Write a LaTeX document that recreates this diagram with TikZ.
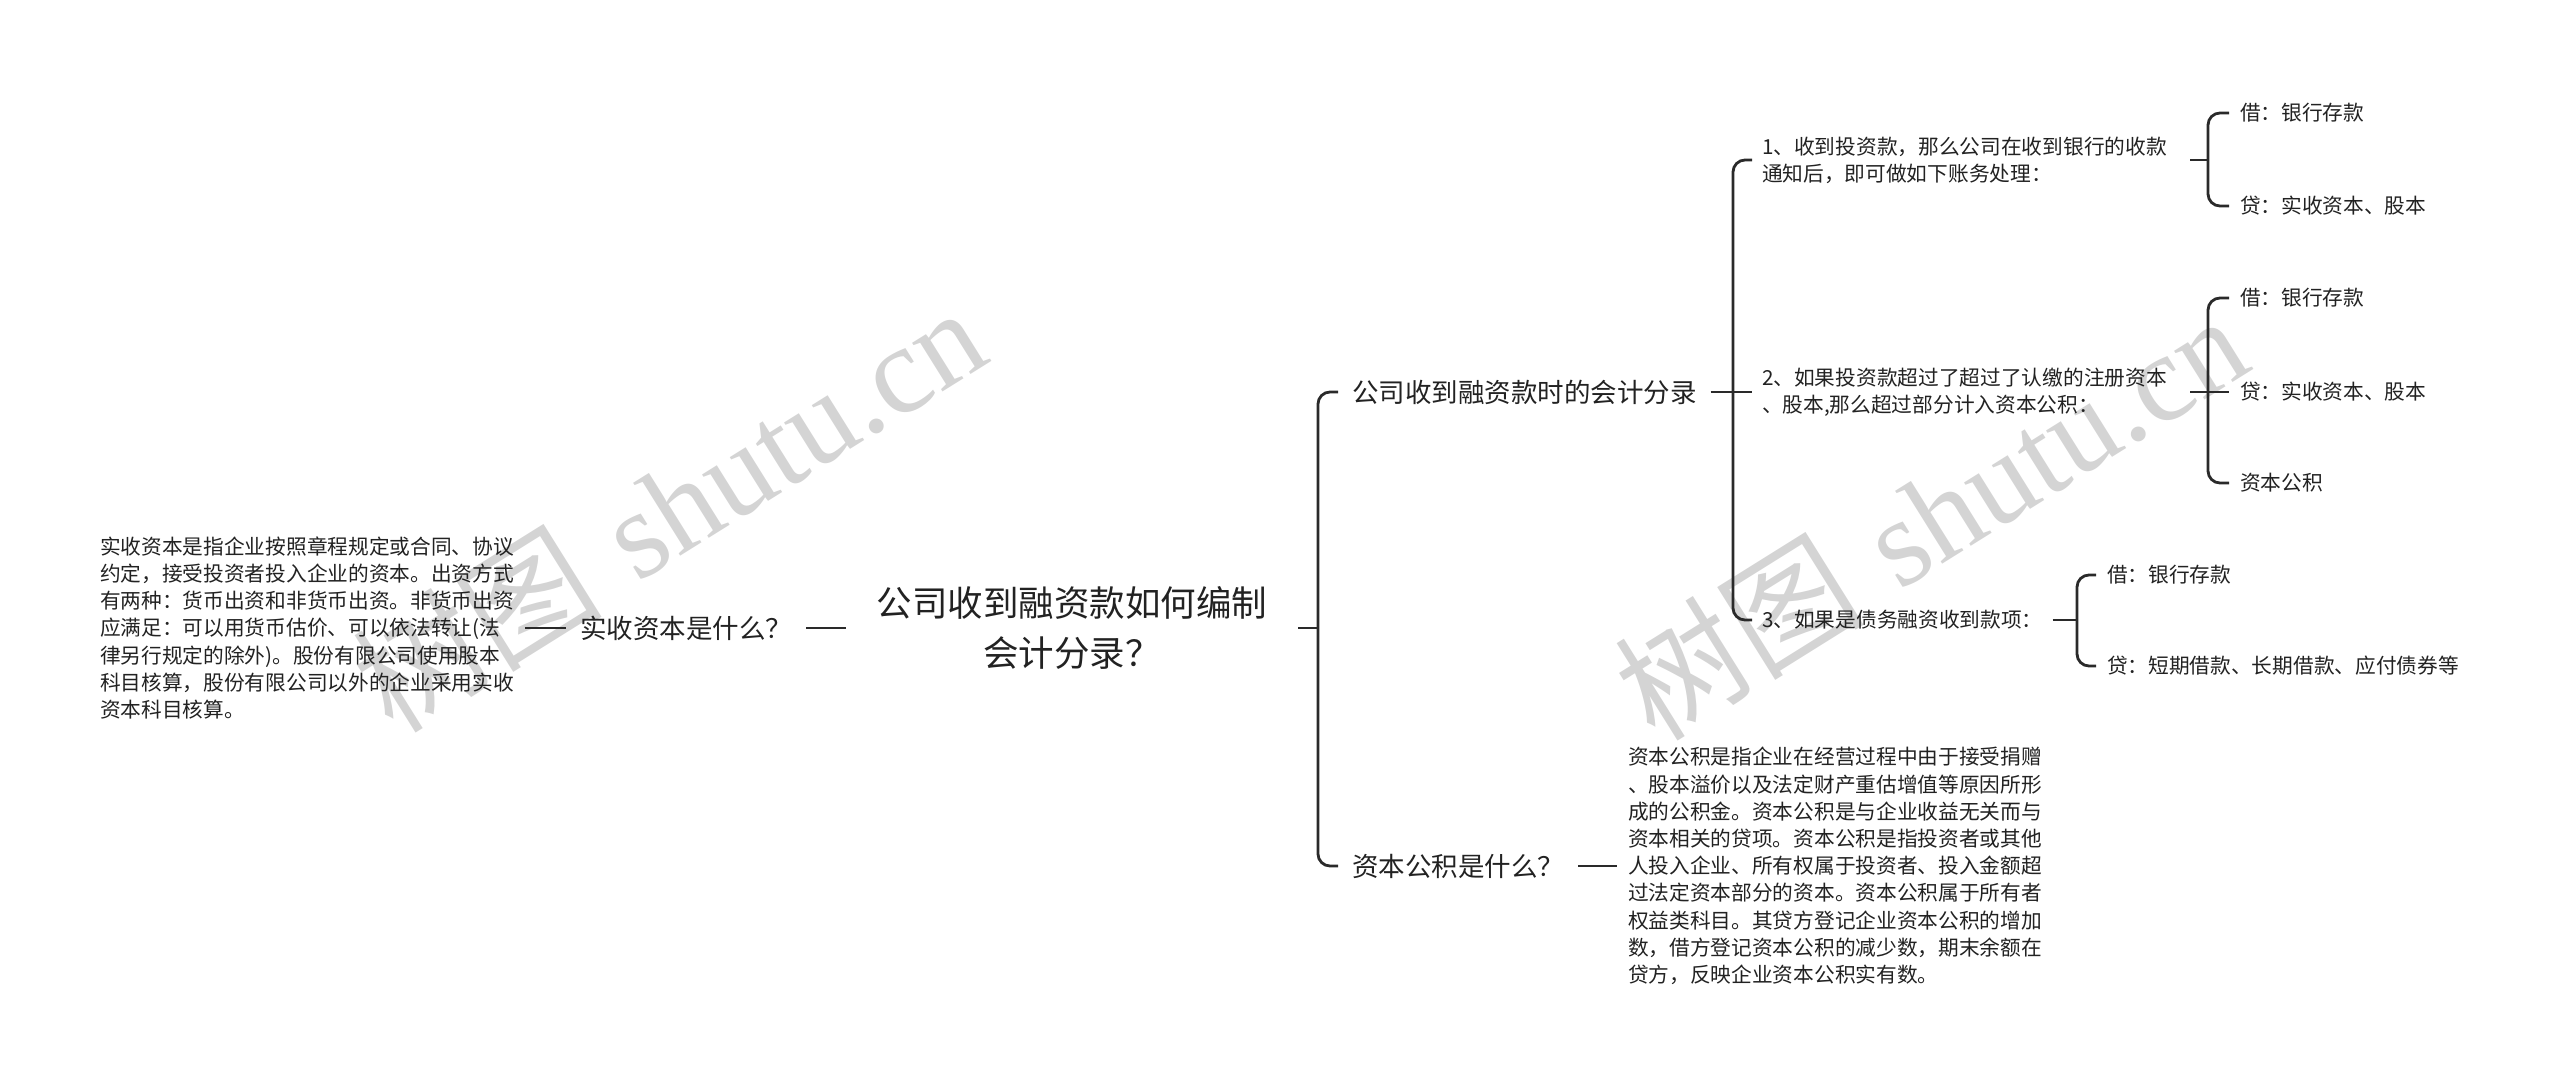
\documentclass[tikz,border=0pt]{standalone}
\usepackage{fontspec}
\newfontfamily\cjk{Noto Sans CJK SC}
\newfontfamily\wmserif{Liberation Serif}
\definecolor{ink}{HTML}{222222}
\definecolor{wire}{HTML}{2A2A2A}
\definecolor{wm}{HTML}{D4D4D4}
\begin{document}
\begin{tikzpicture}[x=1pt,y=-1pt,
  every node/.style={inner sep=0pt, outer ysep=0pt, text=ink},
  para/.style={font=\cjk\fontsize{20.7}{27.2}\selectfont, align=left, anchor=west, outer xsep=11pt},
  mainbox/.style={font=\cjk\fontsize{35.5}{50}\selectfont, align=center, outer xsep=31pt},
  lvlone/.style={font=\cjk\fontsize{26.5}{32}\selectfont, anchor=west, outer xsep=14pt},
  itembox/.style={font=\cjk\fontsize{20.7}{27.2}\selectfont, align=left, anchor=west, outer xsep=10pt},
  leaf/.style={font=\cjk\fontsize{20.7}{27.2}\selectfont, anchor=west, outer xsep=11pt},
  wmark/.style={text=wm, rotate=32, font=\fontsize{125}{130}\selectfont},
  wire/.style={draw=wire, line width=2.8pt},
  spine/.style={wire, rounded corners=12pt}
]
\useasboundingbox (0,0) rectangle (2560,1087);

% watermarks
\node[wmark] (wm1) at (668,508) {{\cjk 树图}\ {\wmserif shutu.cn}};
\node[wmark] (wm2) at (1930,516) {{\cjk 树图}\ {\wmserif shutu.cn}};

% main
\node[mainbox] (main) at (1072,628) {公司收到融资款如何编制\\会计分录？};

% left side
\node[lvlone] (q1) at (566,628) {实收资本是什么？};
\node[para] (lpara) at (89,628) {实收资本是指企业按照章程规定或合同、协议\\约定，接受投资者投入企业的资本。出资方式\\有两种：货币出资和非货币出资。非货币出资\\应满足：可以用货币估价、可以依法转让(法\\律另行规定的除外)。股份有限公司使用股本\\科目核算，股份有限公司以外的企业采用实收\\资本科目核算。};

% right level one
\node[lvlone] (l1a) at (1338,392) {公司收到融资款时的会计分录};
\node[lvlone] (q2) at (1338,866) {资本公积是什么？};
\node[para] (rpara) at (1617,866) {资本公积是指企业在经营过程中由于接受捐赠\\、股本溢价以及法定财产重估增值等原因所形\\成的公积金。资本公积是与企业收益无关而与\\资本相关的贷项。资本公积是指投资者或其他\\人投入企业、所有权属于投资者、投入金额超\\过法定资本部分的资本。资本公积属于所有者\\权益类科目。其贷方登记企业资本公积的增加\\数，借方登记资本公积的减少数，期末余额在\\贷方，反映企业资本公积实有数。};

% items
\node[itembox, text width=418pt] (it1) at (1752,160) {1、收到投资款，那么公司在收到银行的收款\\通知后，即可做如下账务处理：};
\node[itembox, text width=418pt] (it2) at (1752,392) {2、如果投资款超过了超过了认缴的注册资本\\、股本,那么超过部分计入资本公积：};
\node[itembox] (it3) at (1752,620) {3、如果是债务融资收到款项：};

% leaves
\node[leaf] (b1a) at (2229,113) {借：银行存款};
\node[leaf] (b1b) at (2229,206) {贷：实收资本、股本};
\node[leaf] (b2a) at (2229,298) {借：银行存款};
\node[leaf] (b2b) at (2229,392) {贷：实收资本、股本};
\node[leaf] (b2c) at (2229,483) {资本公积};
\node[leaf] (b3a) at (2096,575) {借：银行存款};
\node[leaf] (b3b) at (2096,666) {贷：短期借款、长期借款、应付债券等};

% spine coordinates
\coordinate (s1) at (1318,628);
\coordinate (s2) at (1733,392);
\coordinate (s3) at (2208,160);
\coordinate (s4) at (2208,392);
\coordinate (s5) at (2077,620);

% connectors
\draw[wire] (lpara.east) -- (q1.west);
\draw[wire] (q1.east) -- (main.west);
\draw[wire] (main.east) -- (s1);
\draw[spine] (l1a.west) -| (s1) |- (q2.west);
\draw[wire] (q2.east) -- (rpara.west);

\draw[wire] (l1a.east) -- (it2.west);
\draw[spine] (it1.west) -| (s2) |- (it3.west);

\draw[wire] (it1.east) -- (s3);
\draw[spine] (b1a.west) -| (s3) |- (b1b.west);

\draw[wire] (it2.east) -- (b2b.west);
\draw[spine] (b2a.west) -| (s4) |- (b2c.west);

\draw[wire] (it3.east) -- (s5);
\draw[spine] (b3a.west) -| (s5) |- (b3b.west);
\end{tikzpicture}
\end{document}
